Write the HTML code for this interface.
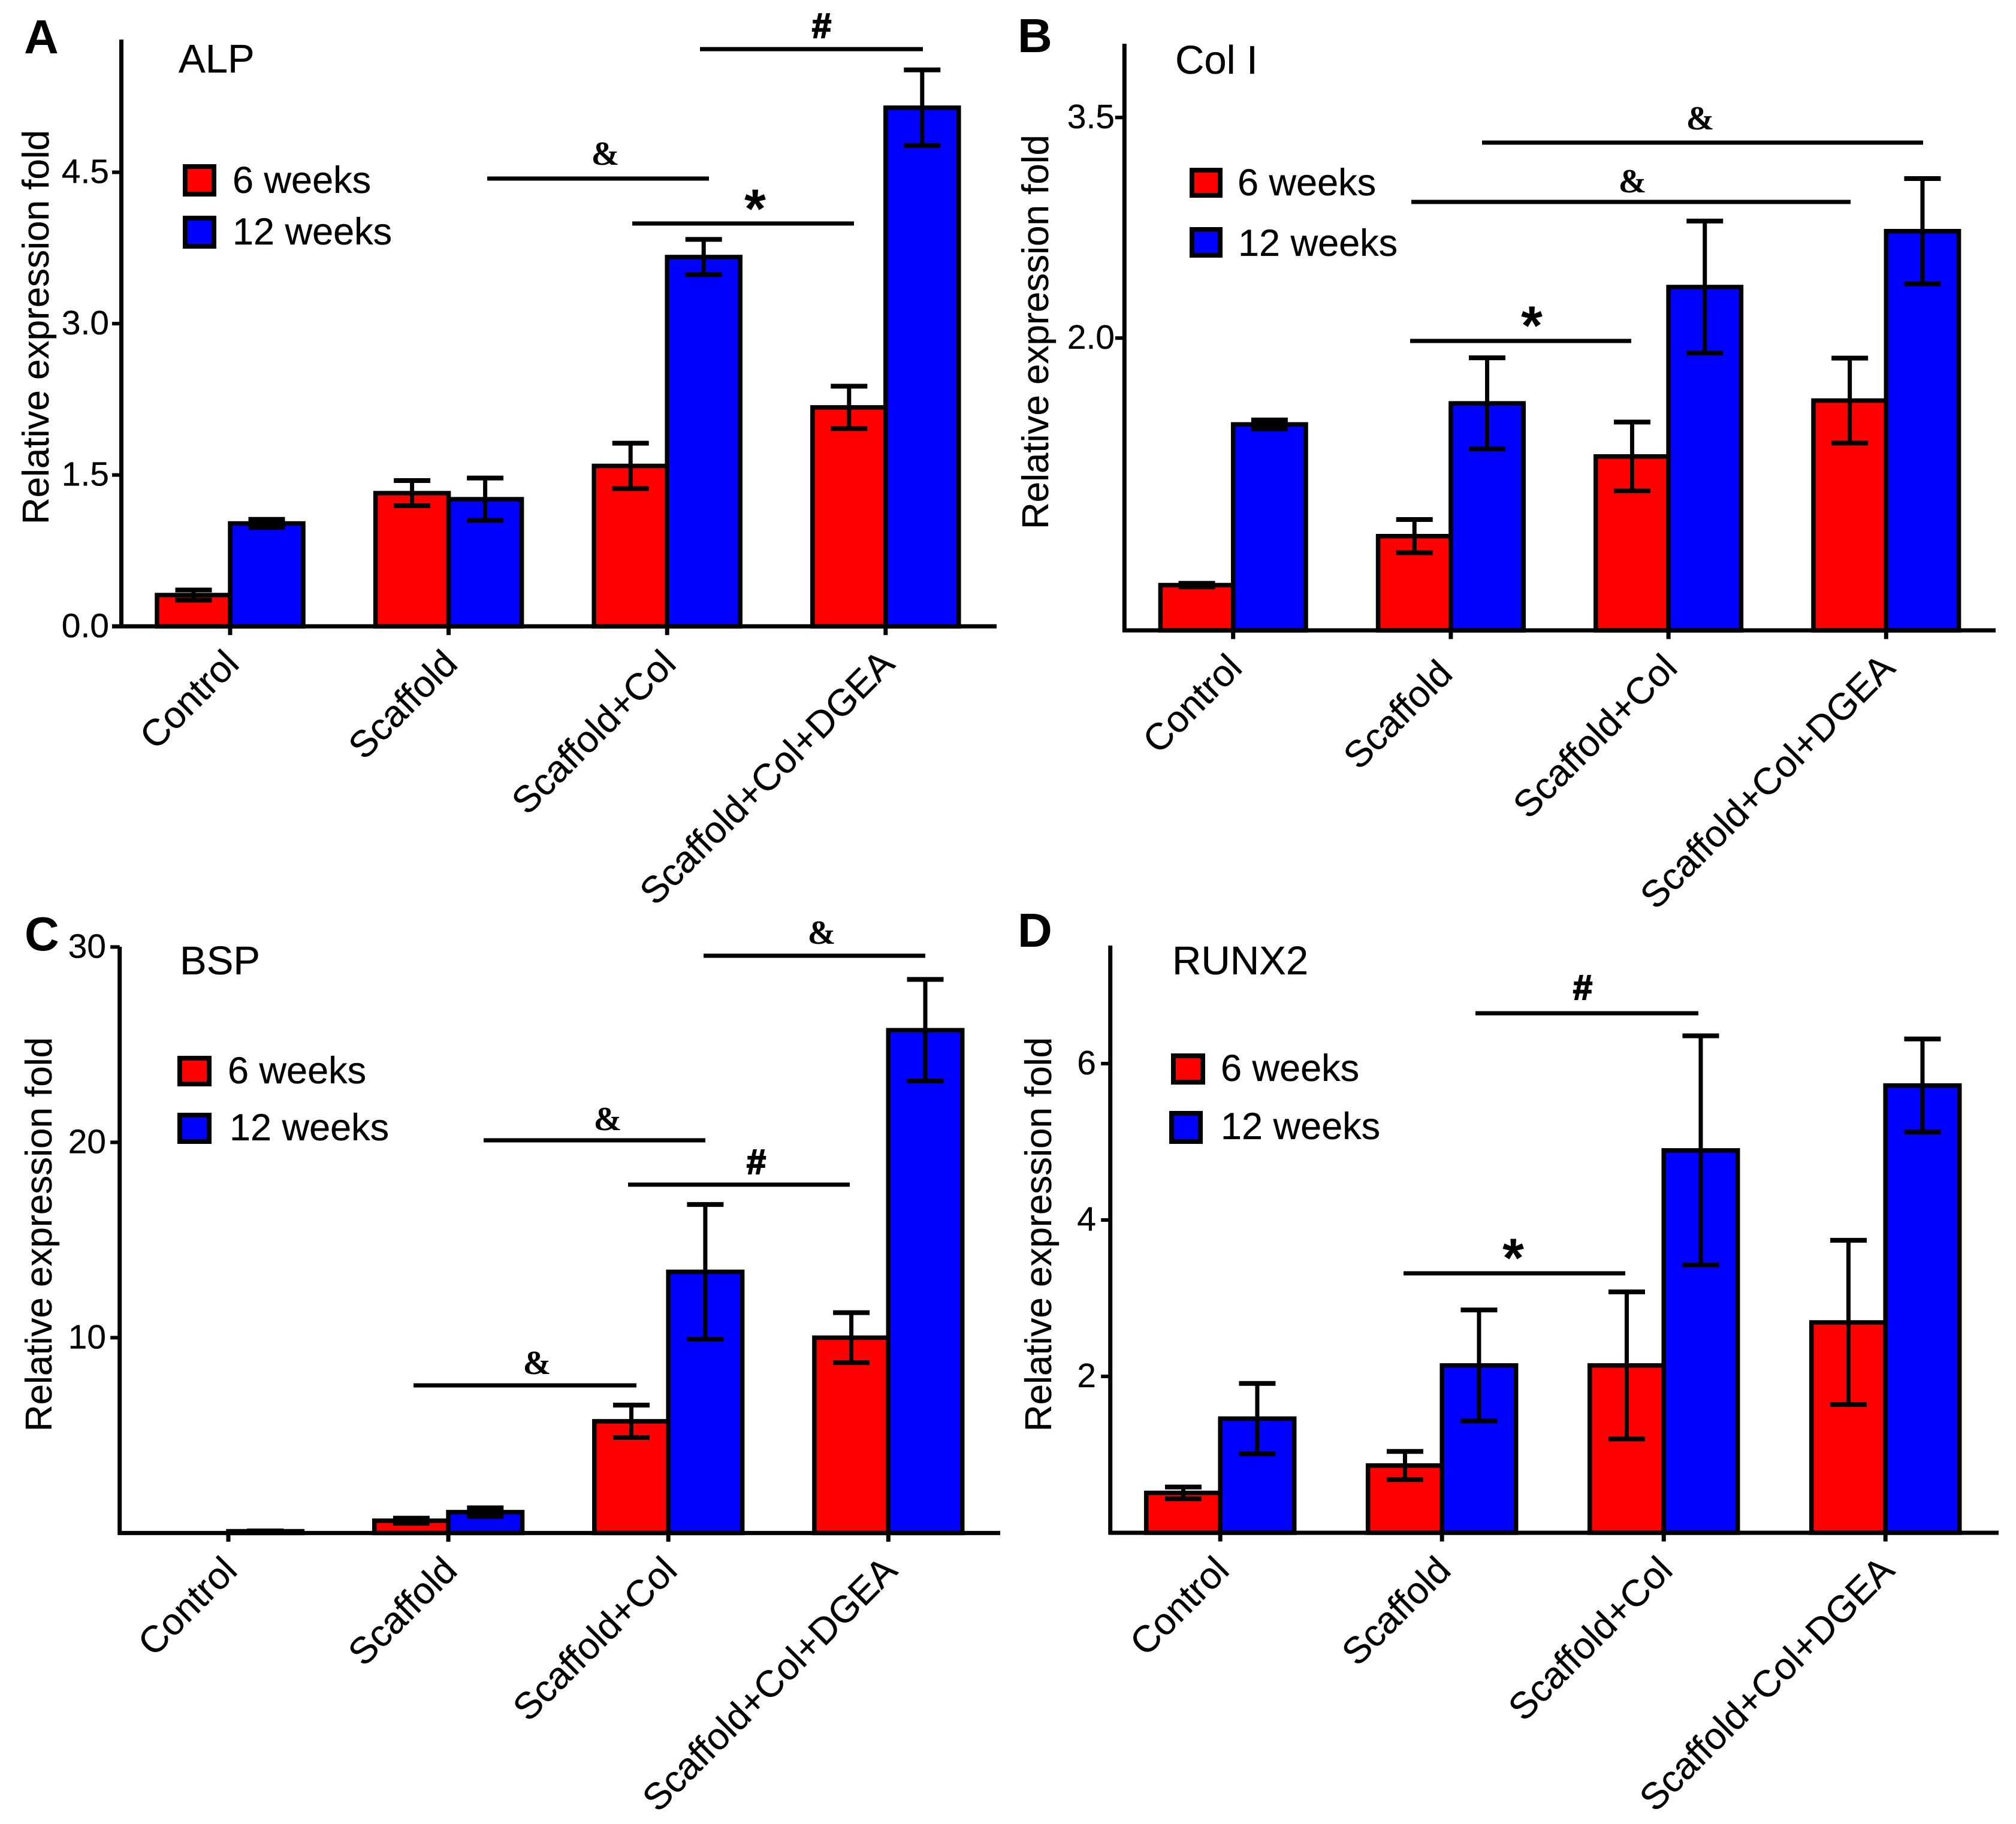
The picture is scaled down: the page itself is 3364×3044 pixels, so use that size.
<!DOCTYPE html>
<html lang="en">
<head>
<meta charset="utf-8">
<title>Relative expression fold of ALP, Col I, BSP and RUNX2</title>
<style>
html,body{margin:0;padding:0;background:#fff;width:3364px;height:3044px;overflow:hidden}
svg{display:block}
text{font-family:"Liberation Sans",sans-serif;fill:#000}
.tick{font-size:57px;stroke:#000;stroke-width:.3}
.title{font-size:67px;stroke:#000;stroke-width:.3}
.axis-title{font-size:62px;stroke:#000;stroke-width:.3}
.legend{font-size:63px;stroke:#000;stroke-width:.3}
.cat{font-size:62.5px;stroke:#000;stroke-width:.3}
.letter{font-size:80px;font-weight:700}
.sig{font-family:"Liberation Serif",serif;font-weight:700;font-size:56px;text-anchor:middle}
.hash{font-family:"Liberation Sans",sans-serif;font-weight:700;font-size:58px;text-anchor:middle;stroke:#000;stroke-width:2}
.star{font-family:"Liberation Sans",sans-serif;font-weight:700;font-size:92px;text-anchor:middle}
.sigline{stroke:#000;stroke-width:7}
.key{stroke:#000;stroke-width:8}
</style>
</head>
<body>
<svg id="figure" xmlns="http://www.w3.org/2000/svg" width="3364" height="3044" viewBox="0 0 3364 3044">
<rect x="0" y="0" width="3364" height="3044" fill="#fff"/>

<g>
<text class="letter" x="40" y="89">A</text>
<text class="title" x="298" y="121">ALP</text>
<rect class="key" x="309" y="278" width="48" height="46" fill="#f00"/>
<text class="legend" x="388" y="322">6 weeks</text>
<rect class="key" x="309" y="364" width="48" height="47" fill="#00f"/>
<text class="legend" x="388" y="408">12 weeks</text>
<line class="sigline" x1="813" x2="1183" y1="298" y2="298"/>
<text class="sig" x="1010" y="275">&amp;</text>
<line class="sigline" x1="1055" x2="1425" y1="373" y2="373"/>
<text class="star" x="1260" y="380">*</text>
<line class="sigline" x1="1168" x2="1540" y1="82" y2="82"/>
<text class="hash" x="1371" y="63">#</text>
</g>

<g>
<text class="letter" x="1698" y="87">B</text>
<text class="title" x="1961" y="123">Col I</text>
<rect class="key" x="1989" y="284" width="47" height="42" fill="#f00"/>
<text class="legend" x="2065" y="326">6 weeks</text>
<rect class="key" x="1989" y="383" width="47" height="43" fill="#00f"/>
<text class="legend" x="2066" y="427">12 weeks</text>
<line class="sigline" x1="2473" x2="3209" y1="238" y2="238"/>
<text class="sig" x="2837" y="216">&amp;</text>
<line class="sigline" x1="2355" x2="3088" y1="337" y2="337"/>
<text class="sig" x="2724" y="321">&amp;</text>
<line class="sigline" x1="2353" x2="2722" y1="569" y2="569"/>
<text class="star" x="2556" y="575">*</text>
</g>

<g>
<text class="letter" x="41" y="1586">C</text>
<text class="title" x="300" y="1626">BSP</text>
<rect class="key" x="300" y="1766" width="49" height="43" fill="#f00"/>
<text class="legend" x="380" y="1808">6 weeks</text>
<rect class="key" x="300" y="1861" width="49" height="44" fill="#00f"/>
<text class="legend" x="383" y="1903">12 weeks</text>
<line class="sigline" x1="1174" x2="1544" y1="1595" y2="1595"/>
<text class="sig" x="1371" y="1575">&amp;</text>
<line class="sigline" x1="807" x2="1177" y1="1903" y2="1903"/>
<text class="sig" x="1014" y="1886">&amp;</text>
<line class="sigline" x1="1048" x2="1418" y1="1977" y2="1977"/>
<text class="hash" x="1262" y="1959">#</text>
<line class="sigline" x1="690" x2="1062" y1="2312" y2="2312"/>
<text class="sig" x="896" y="2293">&amp;</text>
</g>

<g>
<text class="letter" x="1698" y="1580">D</text>
<text class="title" x="1956" y="1626">RUNX2</text>
<rect class="key" x="1958" y="1762" width="49" height="44" fill="#f00"/>
<text class="legend" x="2037" y="1804">6 weeks</text>
<rect class="key" x="1955" y="1858" width="48" height="47" fill="#00f"/>
<text class="legend" x="2037" y="1901">12 weeks</text>
<line class="sigline" x1="2462" x2="2834" y1="1691" y2="1691"/>
<text class="hash" x="2641" y="1668">#</text>
<line class="sigline" x1="2342" x2="2712" y1="2125" y2="2125"/>
<text class="star" x="2525" y="2131">*</text>
</g>
</svg>

<script>
const categories = ["Control", "Scaffold", "Scaffold+Col", "Scaffold+Col+DGEA"];
const alpTicks = ["0.0", "1.5", "3.0", "4.5"];
const alpWeek6 = [0.31, 1.32, 1.59, 2.17];
const alpWeek12 = [1.02, 1.26, 3.66, 5.14];
const alpWeek6Err = [0.05, 0.125, 0.225, 0.21];
const alpWeek12Err = [0.04, 0.21, 0.175, 0.375];

const colTicks = ["2.0", "3.5"];
const colWeek6 = [0.32, 0.653, 1.195, 1.575];
const colWeek12 = [1.413, 1.556, 2.347, 2.727];
const colWeek6Err = [0.012, 0.113, 0.234, 0.289];
const colWeek12Err = [0.03, 0.31, 0.449, 0.358];

const bspTicks = ["10", "20", "30"];
const bspWeek6 = [0, 0.63, 5.72, 10.0];
const bspWeek12 = [0.09, 1.07, 13.37, 25.74];
const bspWeek6Err = [0, 0.13, 0.83, 1.28];
const bspWeek12Err = [0.02, 0.22, 3.45, 2.6];

const runxTicks = ["2", "4", "6"];
const runxWeek6 = [0.51, 0.86, 2.14, 2.69];
const runxWeek12 = [1.46, 2.14, 4.89, 5.72];
const runxWeek6Err = [0.075, 0.18, 0.94, 1.05];
const runxWeek12Err = [0.45, 0.71, 1.465, 0.595];

const svg = document.getElementById('figure');
const NS = 'http://www.w3.org/2000/svg';

function make(tag, attrs, parent) {
  const el = document.createElementNS(NS, tag);
  for (const k in attrs) el.setAttribute(k, attrs[k]);
  parent.appendChild(el);
  return el;
}

function drawPanel(p) {
  const group = make('g', {}, svg);
  
  

  const yScale = v => p.yZero - v * p.pxPerUnit;
  const xScale = i => p.firstCenter + i * p.spacing;

  const drawSeries = (values, color, offset, label) => {
    values.forEach((v, i) => {
      const top = Math.min(yScale(v), p.baseline);
      const bar = make('rect', {
        x: xScale(i) + offset * p.barWidth,
        y: top,
        width: p.barWidth,
        height: p.baseline - top,
        fill: color,
        stroke: '#000',
        'stroke-width': 7.5
      }, group);
      
      
    });
  };
  const drawErrors = (values, errors, offset, label) => {
    values.forEach((v, i) => {
      if (errors[i] === 0) return;
      const cx = xScale(i) + (offset + 0.5) * p.barWidth;
      const hi = yScale(v + errors[i]);
      const lo = yScale(v - errors[i]);
      const stem = make('line', { x1: cx, x2: cx, y1: hi, y2: lo, stroke: '#000', 'stroke-width': 7 }, group);
      
      
      const capHi = make('line', { x1: cx - 30.5, x2: cx + 30.5, y1: hi, y2: hi, stroke: '#000', 'stroke-width': 8 }, group);
      
      
      const capLo = make('line', { x1: cx - 30.5, x2: cx + 30.5, y1: lo, y2: lo, stroke: '#000', 'stroke-width': 8 }, group);
      
      
    });
  };

  drawSeries(p.week6, '#ff0000', -1, '6-weeks');
  drawSeries(p.week12, '#0000ff', 0, '12-weeks');
  drawErrors(p.week6, p.week6Err, -1, '6-weeks');
  drawErrors(p.week12, p.week12Err, 0, '12-weeks');

  const yAxis = make('line', { x1: p.axisX, x2: p.axisX, y1: p.top, y2: p.baseline + 3, stroke: '#000', 'stroke-width': 7 }, group);
  
  
  const xAxis = make('line', { x1: p.axisX - p.axisLeft, x2: p.right, y1: p.baseline, y2: p.baseline, stroke: '#000', 'stroke-width': 7 }, group);
  
  

  p.ticks.forEach(t => {
    const y = yScale(parseFloat(t));
    const mark = make('line', { x1: p.axisX - 15.5, x2: p.axisX, y1: y, y2: y, stroke: '#000', 'stroke-width': 6 }, group);
    
    
    const label = make('text', { class: 'tick', x: p.tickRight, y: y + 18, 'text-anchor': 'end' }, group);
    label.textContent = t;
    
    
  });

  categories.forEach((c, i) => {
    const x = xScale(i);
    const mark = make('line', { x1: x, x2: x, y1: p.baseline, y2: p.baseline + 14.5, stroke: '#000', 'stroke-width': 7 }, group);
    
    
    const shiftX = p.labelShiftIndex === i ? -12 : 0;
    const shiftY = p.labelShiftIndex === i ? 10 : 0;
    const ax = x + 18 + shiftX;
    const ay = p.baseline + 66 + shiftY;
    const label = make('text', { class: 'cat', x: ax, y: ay, 'text-anchor': 'end', transform: 'rotate(-45 ' + ax + ' ' + ay + ')' }, group);
    label.textContent = c;
    
    
  });

  const tx = p.titleX;
  const ty = p.titleY;
  const title = make('text', { class: 'axis-title', x: tx, y: ty, 'text-anchor': 'middle', transform: 'rotate(-90 ' + tx + ' ' + ty + ')' }, group);
  title.textContent = 'Relative expression fold';
  
  
}

drawPanel({ key: 'alp', ticks: alpTicks, week6: alpWeek6, week12: alpWeek12, week6Err: alpWeek6Err, week12Err: alpWeek12Err,
  axisX: 202.5, axisLeft: 15.5, top: 66, baseline: 1045.3, yZero: 1045.3, right: 1663, pxPerUnit: 168.4, firstCenter: 384, spacing: 364.6, barWidth: 122, tickRight: 182, titleX: 81, titleY: 546 });
drawPanel({ key: 'col-i', ticks: colTicks, week6: colWeek6, week12: colWeek12, week6Err: colWeek6Err, week12Err: colWeek12Err,
  axisX: 1876.3, axisLeft: 3, top: 73, baseline: 1052, yZero: 1055, right: 3330, pxPerUnit: 245.4, firstCenter: 2057.7, spacing: 363.2, barWidth: 121.3, tickRight: 1860, titleX: 1749, titleY: 554, labelShiftIndex: 1 });
drawPanel({ key: 'bsp', ticks: bspTicks, week6: bspWeek6, week12: bspWeek12, week6Err: bspWeek6Err, week12Err: bspWeek12Err,
  axisX: 199.7, axisLeft: 3, top: 1580, baseline: 2558.4, yZero: 2558.4, right: 1669, pxPerUnit: 32.6, firstCenter: 381, spacing: 367.1, barWidth: 123.4, tickRight: 177, titleX: 86, titleY: 2060 });
drawPanel({ key: 'runx2', ticks: runxTicks, week6: runxWeek6, week12: runxWeek12, week6Err: runxWeek6Err, week12Err: runxWeek12Err,
  axisX: 1852.7, axisLeft: 3, top: 1578, baseline: 2558, yZero: 2558, right: 3335, pxPerUnit: 130.5, firstCenter: 2036.2, spacing: 370, barWidth: 123.5, tickRight: 1829, titleX: 1754, titleY: 2060 });
</script>
</body>
</html>
